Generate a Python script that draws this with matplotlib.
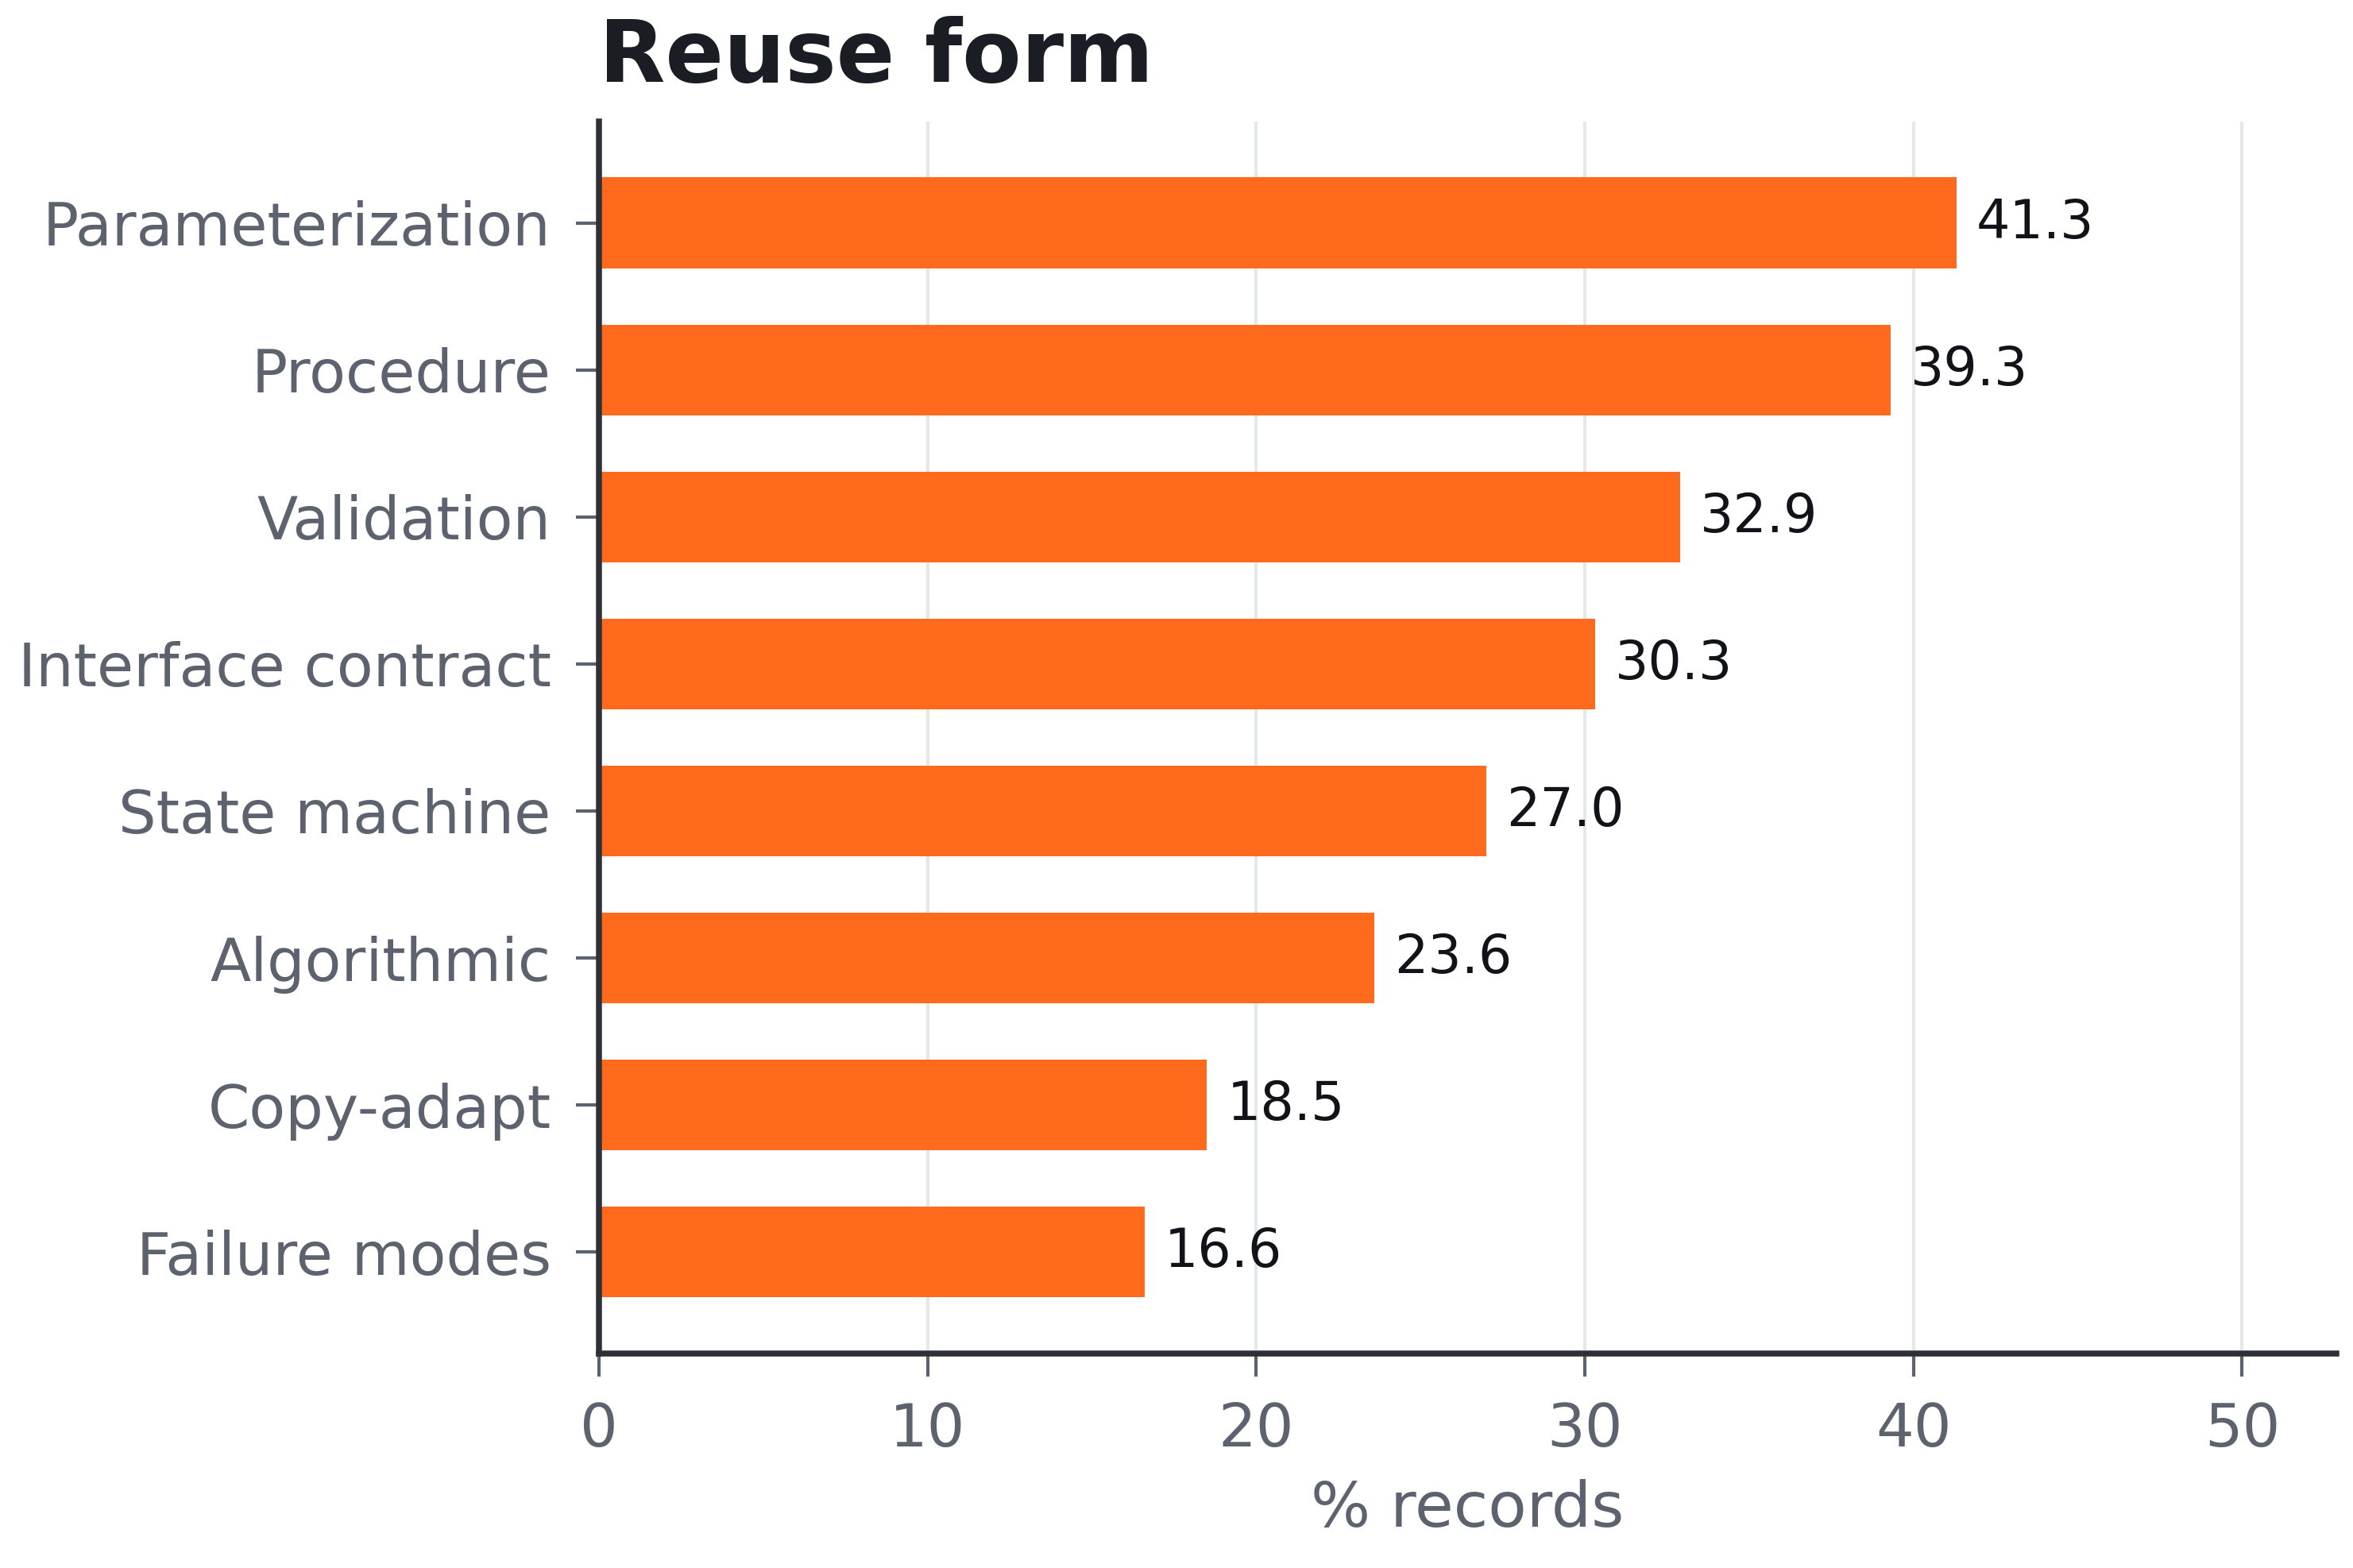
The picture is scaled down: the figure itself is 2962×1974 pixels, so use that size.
import numpy as np
import matplotlib
matplotlib.use("Agg")
import matplotlib.pyplot as plt

# data, top to bottom
categories = ["Parameterization", "Procedure", "Validation", "Interface contract",
              "State machine", "Algorithmic", "Copy-adapt", "Failure modes"]
values = [41.3, 39.3, 32.9, 30.3, 27.0, 23.6, 18.5, 16.6]
x_ticks = [0, 10, 20, 30, 40, 50]

# colours
bar_color = "#FF6A1C"
title_color = "#1A1D24"
tick_color = "#5C636E"
spine_color = "#2D3036"
grid_color = "#E5E7EB"

plt.rcParams["font.family"] = "DejaVu Sans"

fig = plt.figure(figsize=(2962 / 300, 1974 / 300), dpi=300)
ax = fig.add_axes([0.2546, 0.1368, 0.7383, 0.7857])

y = np.arange(len(categories))
ax.barh(y, values, height=0.62, color=bar_color, zorder=2)
ax.invert_yaxis()

ax.set_xlim(0, max(values) * 1.28)
ax.set_xticks(x_ticks)
ax.set_yticks(y)
ax.set_yticklabels(categories)

# value labels at bar ends
for yi, v in zip(y, values):
    ax.annotate(f"{v:.1f}", xy=(v, yi), xytext=(6, 0), textcoords="offset points",
                ha="left", va="center", fontsize=16, color="#111318")

ax.grid(axis="x", color=grid_color, linewidth=1.0, zorder=0)
ax.set_axisbelow(True)

for side in ["top", "right"]:
    ax.spines[side].set_visible(False)
for side in ["left", "bottom"]:
    ax.spines[side].set_color(spine_color)
    ax.spines[side].set_linewidth(1.8)

ax.tick_params(axis="both", colors=tick_color, labelsize=18, length=7, width=1.0,
               pad=7.5, labelcolor=tick_color)
ax.set_xlabel("% records", fontsize=19, color=tick_color, labelpad=6)

ax.set_title("Reuse form", loc="left", fontsize=26, fontweight="bold",
             color=title_color, pad=12)

fig.savefig("out.png", dpi=300)
